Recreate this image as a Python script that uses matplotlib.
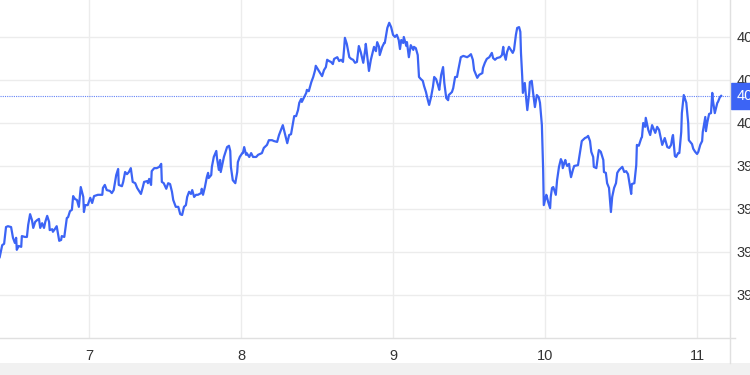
import numpy as np
import matplotlib
matplotlib.use("Agg")
import matplotlib.pyplot as plt
from matplotlib.lines import Line2D
from matplotlib.patches import Rectangle

plt.rcParams['font.family'] = ['Liberation Sans', 'DejaVu Sans']

# heures depuis le jour 7 a 00:00, et cours
hours = [-14.1, -13.7, -13.4, -13.1, -12.8, -12.3, -12.0, -11.7, -11.5, -11.4, -11.1, -10.7, -10.6, -10.1, -9.8,
         -9.6, -9.3, -9.0, -8.8, -8.5, -8.2, -7.9, -7.7, -7.4, -7.1, -6.9, -6.6, -6.3, -6.2, -5.8, -5.7, -5.4,
         -5.1, -4.7, -4.4, -4.3, -3.9, -3.5, -3.3, -3.0, -2.7, -2.5, -2.2, -1.9, -1.6, -1.3, -0.9, -0.8, -0.6,
         -0.2, 0.2, 0.5, 0.8,
         1.4, 2.1, 2.2, 2.5, 2.8, 3.3, 3.6, 3.9, 4.3, 4.6, 4.7, 5.2, 5.4, 5.7, 6.0, 6.3, 6.6, 6.9, 7.3, 7.6,
         7.9, 8.2, 8.5, 8.7, 9.2, 9.3, 9.5, 9.8, 9.9, 10.3, 10.7, 11.1, 11.4, 11.5, 11.8, 12.2, 12.5, 12.8,
         13.1, 13.3, 13.7, 14.1, 14.4, 14.7, 15.0,
         15.3, 15.5, 15.8, 16.1, 16.3, 16.6, 16.9, 17.2, 17.7, 17.8, 18.0, 18.3, 18.6, 18.8, 18.9, 19.3, 19.4,
         19.7, 20.1, 20.2, 20.5, 20.7, 20.8, 21.2, 21.3, 21.8, 22.1, 22.3, 22.4, 22.7, 23.1, 23.4, 23.5, 23.8,
         24.2, 24.3, 24.5, 24.8, 24.9, 25.3, 25.6, 25.9, 26.4, 26.7, 27.3, 27.6, 28.1, 28.4, 28.9,
         29.2, 29.7, 30.0, 30.5, 30.6, 30.9, 31.3, 31.6, 31.9, 32.2, 32.4, 32.7, 33.0, 33.2, 33.5, 33.6, 33.9,
         34.3, 34.4, 34.7, 35.1, 35.4, 35.7, 35.8, 36.2, 36.5, 36.8, 37.1, 37.4, 37.6, 37.9, 38.2, 38.5, 38.7,
         39.2, 39.5, 39.8, 40.1, 40.3, 40.4, 40.7, 41.1, 41.4, 41.7, 42.0, 42.3, 42.6, 42.9, 43.3,
         43.6, 43.7, 43.9, 44.2, 44.5, 44.8, 45.0, 45.3, 45.5, 45.8, 45.9, 46.3, 46.6, 46.7, 47.1, 47.4, 47.7,
         48.0, 48.3, 48.6, 48.9, 49.1, 49.3, 49.6, 49.7, 50.1, 50.2, 50.5, 50.8, 51.2, 51.3, 51.6, 51.9, 52.1,
         52.4, 52.7, 52.9, 53.2, 53.5, 53.7, 54.0, 54.3, 54.5, 54.8, 55.1, 55.3, 55.6, 55.9, 56.1, 56.4, 56.7,
         56.8, 57.3, 57.5, 57.8,
         58.1, 58.3, 58.7, 59.1, 59.7, 60.0, 60.3, 60.6, 60.8, 61.1, 61.3, 61.6, 62.1, 62.2, 62.5, 62.8, 63.2,
         63.6, 63.8, 64.1, 64.4, 64.9, 65.2, 65.4, 65.5, 65.8, 66.0, 66.3, 66.6, 66.9, 67.1, 67.4, 67.6, 67.9,
         68.1, 68.2, 68.4, 68.5, 68.8, 69.0, 69.2, 69.5, 69.6, 69.9, 70.1, 70.4, 70.7, 71.0, 71.2, 71.5, 71.7,
         71.8,
         72.2, 72.3, 72.5, 72.8, 72.9, 73.1, 73.3, 73.6, 73.7, 73.9, 74.2, 74.5, 74.7, 74.8, 75.2, 75.3, 75.5,
         75.8, 75.9, 76.1, 76.4, 76.6, 77.2, 77.4, 77.7, 77.8, 78.3, 78.6, 78.8, 79.1, 79.3, 79.6, 79.7, 80.1,
         80.4, 80.5, 80.8, 81.2, 81.3, 81.6, 81.8, 82.1, 82.4, 82.6, 82.9, 83.2, 83.4, 83.7, 84.0, 84.2,
         84.5, 84.8, 85.1, 85.3, 85.6, 85.7, 86.1, 86.4, 86.5, 86.8, 87.2, 87.3, 87.5, 87.8, 87.9, 88.3, 88.6,
         88.9, 89.1, 89.4, 89.7, 90.0, 90.2, 90.5, 90.6, 90.9, 91.3, 91.6, 91.9, 92.1, 92.2, 92.5, 92.7, 93.0,
         93.2, 93.5, 93.6, 93.9, 94.3, 94.6, 94.7, 95.2, 95.4, 95.7, 96.0, 96.2, 96.5, 96.8, 96.9, 97.3, 97.4,
         97.6, 97.9, 98.2, 98.4, 98.5, 98.8, 99.2, 99.3, 99.6, 99.8]

prices = [3968.8, 3971.6, 3971.9, 3975.8, 3976.0, 3975.8, 3973.3, 3972.1, 3973.3, 3970.5, 3971.4, 3971.2, 3973.7,
          3973.5, 3973.5, 3976.3, 3978.8, 3977.4, 3975.6, 3977.0, 3977.4, 3977.7, 3975.6, 3976.7, 3975.6, 3977.0,
          3978.4, 3977.0, 3975.1, 3975.3, 3974.7, 3975.3, 3976.0, 3972.6, 3972.8, 3973.7, 3973.5, 3977.9, 3978.1,
          3979.5, 3979.8, 3983.0, 3982.3, 3982.1, 3980.5, 3985.1, 3982.8, 3979.3, 3980.9, 3980.9, 3982.6, 3981.4,
          3983.0,
          3983.3, 3983.3, 3984.9, 3985.6, 3984.4, 3984.2, 3983.7, 3984.4, 3987.9, 3989.3, 3985.6, 3985.3, 3986.3,
          3988.6, 3988.1, 3988.6, 3989.5, 3986.3, 3986.0, 3984.9, 3984.2, 3983.5, 3985.1, 3986.3, 3986.5, 3986.0,
          3987.0, 3985.6, 3988.8, 3989.5, 3989.5, 3989.8, 3990.5, 3986.3, 3986.0, 3984.7, 3986.0, 3985.8, 3984.0,
          3982.1, 3980.5, 3980.5, 3978.8, 3978.6, 3980.5,
          3980.9, 3982.8, 3984.0, 3983.5, 3984.4, 3982.8, 3983.3, 3983.3, 3983.7, 3984.7, 3983.3, 3985.1, 3987.4,
          3988.4, 3987.2, 3987.9, 3989.8, 3992.1, 3993.5, 3991.9, 3989.1, 3991.4, 3988.6, 3991.4, 3992.1, 3994.4,
          3994.7, 3993.5, 3989.8, 3986.7, 3986.0, 3988.6, 3990.9, 3992.1, 3993.0, 3993.0, 3994.4, 3992.6, 3993.0,
          3992.1, 3993.0, 3992.1, 3992.1, 3992.6, 3993.0, 3994.2, 3994.9, 3996.0, 3996.0,
          3995.8, 3995.6, 3997.2, 3999.1, 3999.5, 3997.7, 3995.3, 3997.2, 3997.4, 4000.0, 4001.6, 4001.6, 4003.0,
          4004.7, 4005.6, 4004.9, 4005.8, 4007.0, 4007.7, 4007.4, 4009.5, 4010.7, 4012.3, 4013.3, 4012.3, 4011.6,
          4010.9, 4012.3, 4013.0, 4014.7, 4014.4, 4014.2, 4013.7, 4014.9, 4015.3, 4014.4, 4014.7, 4014.2, 4017.7,
          4019.8, 4018.4, 4015.3, 4014.9, 4014.7, 4014.0, 4014.2, 4017.9, 4016.5, 4014.0,
          4017.0, 4018.4, 4015.8, 4012.1, 4014.7, 4016.5, 4017.7, 4016.7, 4018.8, 4017.7, 4015.8, 4017.7, 4018.6,
          4018.6, 4022.1, 4023.3, 4022.3, 4020.5, 4020.0, 4020.5, 4019.3, 4017.2, 4019.3, 4018.6, 4020.0, 4017.9,
          4018.8, 4015.3, 4018.1, 4017.0, 4017.7, 4017.4, 4015.8, 4010.7, 4010.2, 4009.8, 4008.6, 4007.2, 4005.3,
          4004.2, 4006.0, 4008.4, 4010.7, 4010.2, 4008.8, 4007.7, 4011.2, 4013.0, 4009.3, 4005.8, 4005.3, 4006.5,
          4007.2, 4008.1, 4010.7,
          4010.7, 4012.3, 4015.3, 4015.6, 4015.3, 4015.6, 4016.0, 4014.7, 4012.3, 4011.2, 4010.5, 4011.2, 4011.6,
          4012.8, 4014.0, 4014.9, 4015.3, 4016.3, 4015.1, 4014.7, 4015.1, 4015.3, 4015.8, 4017.7, 4016.3, 4014.7,
          4016.5, 4017.7, 4017.0, 4016.3, 4017.0, 4020.5, 4022.1, 4022.3, 4021.2, 4016.3, 4010.7, 4007.0, 4009.3,
          4006.0, 4003.0, 4007.0, 4009.5, 4009.8, 4007.2, 4003.7, 4006.5, 4006.0, 4004.7, 3999.5, 3989.1, 3980.9,
          3983.3, 3982.8, 3981.6, 3980.2, 3982.8, 3984.9, 3985.1, 3983.7, 3983.3, 3986.7, 3989.8, 3991.6, 3990.9,
          3989.5, 3991.4, 3990.7, 3990.0, 3990.5, 3989.1, 3987.4, 3989.1, 3990.0, 3990.2, 3992.1, 3994.9, 3995.8,
          3996.5, 3996.7, 3997.0, 3995.8, 3993.3, 3992.1, 3989.8, 3989.5, 3992.8, 3993.7, 3993.3, 3991.4, 3988.6,
          3988.4, 3986.0, 3984.9, 3979.3, 3982.8, 3984.9, 3986.0, 3988.4, 3989.1, 3989.5, 3989.8,
          3988.6, 3988.8, 3988.1, 3986.3, 3983.5, 3985.8, 3986.0, 3990.2, 3994.9, 3994.7, 3996.5, 3996.7, 4000.0,
          3999.1, 4001.2, 3998.4, 3997.2, 3999.5, 3998.8, 3997.7, 3999.1, 3998.4, 3997.0, 3994.9, 3995.3, 3996.5,
          3994.4, 3994.2, 3994.9, 3996.7, 3997.2, 3992.3, 3992.1, 3993.0, 3993.0, 3997.9, 4002.3, 4006.5, 4004.7,
          4000.0, 3996.0, 3995.1, 3994.0, 3993.3, 3992.8, 3993.3, 3994.9, 3995.8, 3997.9, 4001.4, 3998.1, 4000.0,
          4002.1, 4002.3, 4007.0, 4005.3, 4002.3, 4004.7, 4004.9, 4006.0, 4006.3]

day_ticks = [7, 8, 9, 10, 11]
price_ticks = [3960, 3970, 3980, 3990, 4000, 4010, 4020]
last_label = "4006.30"

blue = '#3c64f5'
grid_col = '#ececec'

days = 7 + np.array(hours) / 24.0

fig = plt.figure(figsize=(7.5, 3.75), dpi=100)
fig.patch.set_facecolor('white')
ax = fig.add_axes([0, 1 - 338 / 375, 730 / 750, 338 / 375])

ax.plot(days, prices, color=blue, lw=1.6, solid_joinstyle='round', zorder=3)
ax.axhline(prices[-1], color=blue, lw=0.8, ls=(0, (1, 1)), alpha=0.8, zorder=2)

ax.set_xlim(7 - 14.05 / 24, 7 + 101.2 / 24)
ax.set_ylim(3950, 4028.6)
ax.set_xticks(day_ticks)
ax.set_xticklabels([str(d) for d in day_ticks])
ax.set_yticks(price_ticks)
ax.set_yticklabels([str(p) for p in price_ticks])
ax.yaxis.tick_right()
ax.grid(True, color=grid_col, lw=1)
ax.set_axisbelow(True)
for s in ax.spines.values():
    s.set_visible(False)
ax.tick_params(axis='both', length=0, labelsize=10.5, labelcolor='#333333')
ax.tick_params(axis='y', pad=5)
ax.tick_params(axis='x', pad=8)

# cadre de l'echelle des prix et de l'axe du temps
fig.add_artist(Line2D([0, 735 / 750], [1 - 338 / 375, 1 - 338 / 375], color='#e0e0e0', lw=1))
fig.add_artist(Line2D([730 / 750, 730 / 750], [1 - 363 / 375, 1], color='#e0e0e0', lw=1))
fig.add_artist(Rectangle((0, 0), 1, 12 / 375, color='#f1f1f1', lw=0))

ax.annotate(last_label, xy=(1, prices[-1]), xycoords=('axes fraction', 'data'),
            xytext=(7, 0), textcoords='offset pixels', ha='left', va='center',
            fontsize=10.5, color='white', annotation_clip=False,
            bbox=dict(boxstyle='square,pad=0.4', fc=blue, ec=blue))

fig.savefig('out.png', dpi=100)
